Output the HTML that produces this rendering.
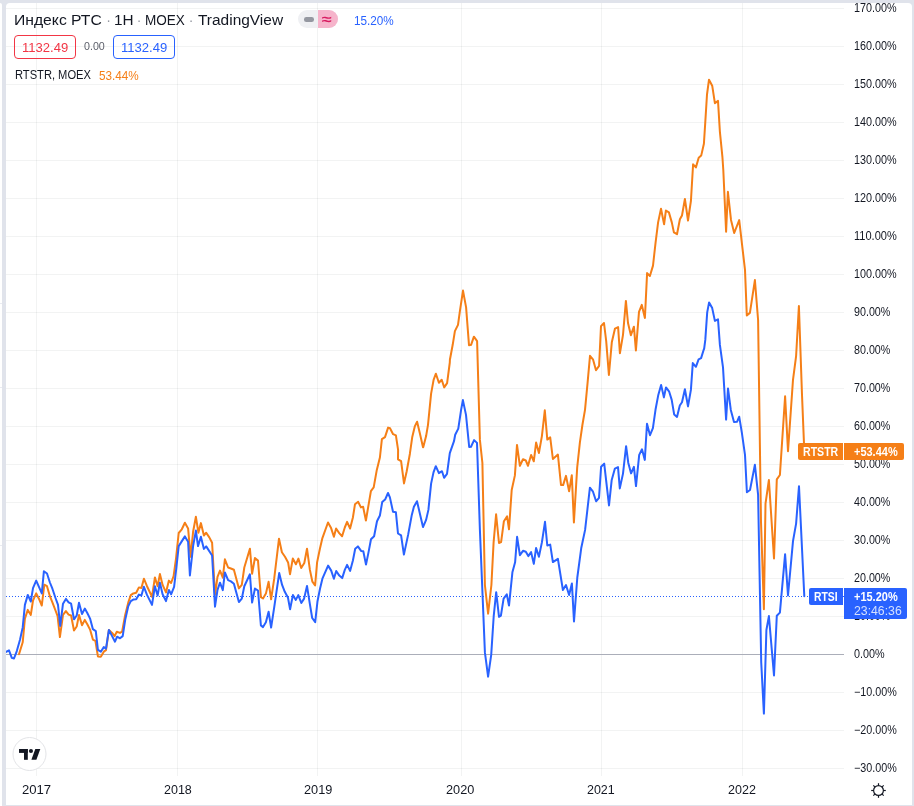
<!DOCTYPE html>
<html lang="ru"><head><meta charset="utf-8"><title>Индекс РТС</title>
<style>
html,body{margin:0;padding:0;}
body{width:914px;height:806px;overflow:hidden;background:#e0e3eb;position:relative;font-family:"Liberation Sans",sans-serif;}
.side{position:absolute;left:0;top:3px;width:2px;height:803px;background:#fff;border-top-right-radius:3px;}
.side i{position:absolute;left:0;width:2px;height:1px;background:#e9ebf1;}
.chart{position:absolute;left:6px;top:3px;width:906px;height:801.5px;background:#fff;border-radius:4px 4px 0 0;overflow:hidden;}
svg{position:absolute;left:-6px;top:-3px;}
.t{position:absolute;white-space:nowrap;transform-origin:0 50%;display:block;}
.box{position:absolute;box-sizing:border-box;border:1px solid;border-radius:4px;}
.tag{position:absolute;border-radius:2px;}
.wrap{position:absolute;left:-6px;top:-3px;width:914px;height:806px;}
</style></head><body>
<div class="side"><i style="top:300px"></i><i style="top:384px"></i><i style="top:542px"></i></div>
<div class="chart">
<svg width="914" height="806" viewBox="0 0 914 806">
<g stroke="rgba(42,46,57,0.06)" stroke-width="1" shape-rendering="crispEdges"><line x1="6" x2="844" y1="768.5" y2="768.5"/><line x1="6" x2="844" y1="730.5" y2="730.5"/><line x1="6" x2="844" y1="692.5" y2="692.5"/><line x1="6" x2="844" y1="616.5" y2="616.5"/><line x1="6" x2="844" y1="578.5" y2="578.5"/><line x1="6" x2="844" y1="540.5" y2="540.5"/><line x1="6" x2="844" y1="502.5" y2="502.5"/><line x1="6" x2="844" y1="464.5" y2="464.5"/><line x1="6" x2="844" y1="426.5" y2="426.5"/><line x1="6" x2="844" y1="388.5" y2="388.5"/><line x1="6" x2="844" y1="350.5" y2="350.5"/><line x1="6" x2="844" y1="312.5" y2="312.5"/><line x1="6" x2="844" y1="274.5" y2="274.5"/><line x1="6" x2="844" y1="236.5" y2="236.5"/><line x1="6" x2="844" y1="198.5" y2="198.5"/><line x1="6" x2="844" y1="160.5" y2="160.5"/><line x1="6" x2="844" y1="122.5" y2="122.5"/><line x1="6" x2="844" y1="84.5" y2="84.5"/><line x1="6" x2="844" y1="46.5" y2="46.5"/><line x1="6" x2="844" y1="8.5" y2="8.5"/><line x1="36.5" x2="36.5" y1="3" y2="775.5"/><line x1="177.5" x2="177.5" y1="3" y2="775.5"/><line x1="317.5" x2="317.5" y1="3" y2="775.5"/><line x1="461.5" x2="461.5" y1="3" y2="775.5"/><line x1="601.5" x2="601.5" y1="3" y2="775.5"/><line x1="742.5" x2="742.5" y1="3" y2="775.5"/></g>
<line x1="6" x2="844" y1="654.5" y2="654.5" stroke="#abaeb9" stroke-width="1" shape-rendering="crispEdges"/>
<line x1="6" x2="844" y1="596.5" y2="596.5" stroke="#2962ff" stroke-width="1" stroke-dasharray="1 2" shape-rendering="crispEdges"/>
<polyline fill="none" stroke="#f57f17" stroke-width="2" stroke-linejoin="round" stroke-linecap="round" points="19.0,654.2 22.7,642.3 24.9,618.6 27.8,609.9 30.8,614.9 33.0,600.5 36.2,593.4 38.9,598.7 41.8,605.5 44.3,584.7 47.0,586.2 49.9,596.2 52.4,602.4 55.5,610.5 57.6,616.1 59.9,637.1 63.0,614.9 65.9,611.1 68.6,614.6 71.1,615.5 74.0,630.5 76.7,626.5 79.0,614.9 82.0,625.2 84.8,619.9 87.3,624.2 90.2,629.9 92.9,639.6 95.4,640.8 97.9,656.4 100.8,656.7 103.8,651.7 106.0,650.2 108.9,629.9 112.1,632.9 114.6,636.1 116.8,631.7 120.0,632.9 122.1,631.7 125.2,614.9 128.3,602.4 130.8,595.1 133.3,593.4 136.2,592.8 138.9,587.4 141.4,588.0 143.9,578.7 147.0,586.2 152.0,596.8 154.9,577.4 157.6,586.2 159.9,574.1 162.6,584.9 166.0,592.4 168.9,580.6 171.1,583.0 173.6,576.2 176.0,558.6 178.7,533.0 181.8,529.3 184.9,522.7 188.1,528.4 190.6,556.8 193.1,531.8 195.9,516.8 198.4,532.7 200.9,523.1 203.9,535.5 206.2,532.7 209.3,537.4 212.1,542.8 215.0,594.8 217.5,576.8 220.0,570.6 222.8,577.7 224.9,559.3 228.1,567.5 230.9,568.5 233.9,569.7 238.9,588.4 241.8,584.9 244.3,567.5 249.9,548.7 252.1,573.7 254.9,558.1 258.0,560.6 260.9,597.1 263.0,598.4 265.9,593.6 268.6,581.8 271.1,599.3 274.2,578.7 279.0,538.7 281.9,552.2 285.0,556.8 288.1,562.4 290.0,574.2 292.8,558.6 295.9,564.3 298.4,558.6 301.2,568.0 304.3,563.0 307.0,548.7 309.9,569.9 312.4,581.7 315.1,585.5 317.1,562.4 319.9,548.7 322.4,538.1 328.0,522.5 331.1,528.1 333.9,536.8 336.1,528.5 339.2,533.1 342.1,536.2 344.8,527.5 347.1,521.9 350.1,528.5 352.9,517.5 355.0,504.2 358.1,501.7 360.9,507.4 363.1,506.7 365.9,520.5 370.9,491.1 373.7,487.4 376.8,469.9 379.9,457.5 381.9,439.2 385.0,437.1 388.1,427.6 390.0,428.3 393.1,434.2 395.9,435.4 398.1,449.8 398.0,459.3 401.1,461.2 404.0,483.4 406.7,471.2 409.9,453.7 412.2,437.3 414.9,426.1 417.1,421.7 419.9,433.6 423.0,447.3 423.3,446.9 426.1,436.1 428.0,424.8 431.1,393.6 433.6,379.9 435.9,373.7 438.9,382.7 441.7,379.7 444.2,387.4 447.1,383.1 449.8,362.5 449.9,359.8 452.7,344.8 454.9,331.1 458.0,324.9 459.9,311.2 463.0,290.6 466.1,307.4 469.0,345.2 471.1,344.8 473.9,336.7 477.1,341.1 479.9,439.9 482.4,463.0 484.9,585.0 488.1,613.7 491.4,585.0 493.6,542.4 496.1,514.3 499.0,543.0 501.1,542.1 503.9,521.2 507.1,516.4 509.0,529.3 511.7,490.0 514.9,475.4 517.0,444.9 519.9,465.8 523.0,459.2 525.8,460.5 528.0,465.8 531.1,454.9 533.8,461.3 536.1,442.6 538.9,453.0 541.9,436.1 544.8,410.3 547.3,439.6 550.2,437.4 552.9,459.0 557.9,454.6 561.0,485.0 563.1,485.1 566.0,475.9 569.1,491.3 571.8,475.2 573.9,522.4 577.2,467.4 579.9,442.4 582.4,425.0 585.0,409.8 587.5,383.6 590.0,355.8 593.1,359.7 596.0,370.2 599.1,365.8 601.0,326.1 604.0,323.0 606.2,341.1 608.9,374.9 611.8,342.3 615.0,328.6 618.1,327.1 619.9,353.3 623.0,334.8 625.9,300.9 628.0,323.0 630.9,335.2 633.9,326.7 635.9,350.4 639.0,311.8 641.8,304.9 644.9,318.0 647.1,273.1 649.9,276.0 653.0,265.6 655.6,242.3 658.1,222.4 661.0,208.7 664.1,224.3 665.9,210.5 668.9,212.4 671.8,222.4 673.9,232.4 677.0,234.2 679.9,219.3 682.0,215.5 684.9,198.9 688.0,220.5 690.9,201.2 693.1,164.3 695.9,167.4 698.7,157.8 701.2,155.6 703.9,143.7 705.3,121.9 707.0,94.5 709.0,79.7 712.2,85.7 714.9,103.2 718.0,100.9 719.9,131.9 722.4,156.8 723.3,170.0 726.1,231.7 727.9,191.8 731.0,219.9 734.2,233.0 739.2,220.1 745.0,269.9 746.8,315.4 749.9,312.9 754.9,280.1 758.1,320.0 761.0,522.0 763.9,609.2 765.5,503.7 768.9,480.0 774.0,558.5 776.8,479.4 779.9,475.0 785.1,396.2 788.0,451.3 793.0,379.8 796.1,356.1 798.9,306.0 802.0,394.8 804.3,451.4"/>
<polyline fill="none" stroke="#2962ff" stroke-width="2" stroke-linejoin="round" stroke-linecap="round" points="6.2,651.9 9.0,650.4 11.8,657.9 14.0,658.5 16.8,651.1 20.0,639.8 22.7,627.4 24.9,604.9 27.8,594.9 30.8,601.5 33.0,588.1 36.2,580.6 41.8,593.4 43.9,571.2 47.0,573.5 49.9,582.5 52.4,588.7 55.5,598.0 58.0,604.9 60.2,625.9 63.0,603.7 65.9,598.9 68.6,602.4 71.1,603.7 74.0,619.3 76.7,615.5 79.0,602.8 82.0,614.0 84.8,608.6 87.3,613.0 90.2,618.9 92.9,629.2 95.8,631.1 97.9,649.8 100.8,651.7 103.8,647.1 106.0,648.6 108.9,629.9 112.1,636.1 115.0,641.7 117.1,636.7 120.0,638.3 122.7,636.1 125.2,619.9 128.3,606.1 130.8,601.1 133.3,599.6 136.2,599.3 138.9,594.6 141.4,595.5 143.9,586.8 147.0,594.9 152.0,604.9 154.9,586.2 157.6,595.5 159.9,582.7 162.6,594.3 166.0,601.1 168.9,589.9 171.1,594.3 174.1,586.8 176.2,569.2 178.7,546.1 184.9,536.4 188.1,541.8 189.9,575.5 193.1,546.1 195.9,530.6 198.0,546.1 200.9,536.8 203.9,548.9 206.2,546.4 212.1,555.5 215.0,606.7 217.5,589.9 220.0,582.7 222.8,590.1 224.9,572.4 228.1,580.2 230.9,581.4 233.9,583.7 238.9,602.1 241.8,598.6 244.3,586.2 249.9,574.3 252.1,602.6 254.9,588.6 258.0,590.5 260.9,625.5 263.0,627.1 265.9,622.3 268.6,611.7 271.1,627.6 274.2,607.4 279.2,573.1 282.1,584.9 284.8,591.8 287.9,597.4 290.1,609.2 292.9,595.1 295.8,599.9 298.3,595.1 301.3,603.0 304.1,598.6 307.0,585.9 309.8,603.6 312.2,618.0 315.2,622.1 317.5,601.2 320.0,588.7 322.4,578.7 328.1,565.6 331.2,570.6 333.9,578.7 336.2,571.0 339.3,575.6 342.2,578.1 344.8,569.9 347.1,564.9 350.1,570.9 352.9,560.5 355.2,548.7 357.9,546.4 361.1,550.9 363.3,551.2 366.0,564.6 368.5,552.4 371.0,539.3 374.1,536.2 377.0,521.2 379.9,515.5 382.2,502.1 385.1,499.6 388.0,493.0 389.9,497.4 393.0,511.7 395.9,512.3 398.0,533.5 401.1,535.4 403.9,554.6 408.1,534.9 411.8,514.9 413.9,506.8 417.0,501.2 419.9,513.7 423.0,527.1 426.1,519.9 428.4,509.9 431.1,483.7 431.1,483.6 433.5,472.4 435.8,466.2 438.9,473.1 442.0,471.2 444.1,477.8 447.0,473.9 449.8,453.1 454.0,441.2 455.2,434.8 458.3,428.6 461.1,409.9 462.9,400.1 466.0,414.9 469.2,447.0 471.0,446.7 474.1,440.1 477.0,442.9 479.9,529.9 484.9,652.4 488.1,676.7 491.2,654.9 493.7,616.2 496.2,592.2 499.0,616.8 500.9,615.6 503.6,598.7 506.8,594.4 509.0,605.6 512.4,572.3 515.1,562.3 517.1,536.8 519.9,555.2 523.0,550.8 525.8,551.7 528.3,556.1 531.1,552.1 533.8,563.9 536.1,548.0 538.9,556.7 541.9,542.4 545.0,521.8 547.3,545.5 550.2,544.6 552.9,562.1 557.9,558.8 562.9,590.0 566.0,585.0 569.1,595.0 571.9,583.5 574.0,621.4 577.3,577.5 581.3,547.7 585.1,529.9 589.9,487.7 593.0,491.7 596.1,501.3 599.0,497.9 601.1,466.8 604.2,463.6 609.0,505.4 611.7,479.9 614.9,468.6 618.0,467.1 619.8,488.4 623.0,473.6 626.1,446.2 628.3,463.0 631.1,473.4 633.9,466.8 636.0,486.1 639.2,454.9 642.0,449.3 644.8,459.9 647.0,423.7 650.0,435.2 652.9,428.1 655.5,409.8 658.3,394.9 661.1,384.9 663.9,397.4 666.0,387.4 669.2,391.7 671.7,399.9 674.2,414.6 677.0,416.9 679.8,405.5 682.0,402.3 684.9,389.3 688.0,406.4 690.9,389.9 692.8,363.1 695.9,366.8 698.6,359.3 701.1,358.1 704.0,348.7 704.1,349.2 705.3,339.9 707.2,312.4 709.1,302.4 712.2,308.1 714.9,320.9 718.0,319.3 719.9,344.9 723.0,367.3 723.0,367.4 726.1,419.6 728.0,388.4 730.8,409.9 734.0,422.1 737.1,421.7 739.2,416.7 741.8,432.4 745.0,454.9 746.9,492.2 750.0,490.0 754.9,464.8 758.1,494.9 761.2,662.0 763.9,713.6 766.4,630.0 768.9,616.1 774.0,675.5 776.8,615.8 779.9,612.6 785.1,554.2 788.0,595.5 793.0,541.1 796.1,523.6 799.0,486.2 804.3,596.3"/>
<circle cx="29.5" cy="754" r="16.5" fill="#fff" stroke="#e3e4e7" stroke-width="1"/>
<g fill="#131722"><rect x="19" y="749" width="8.8" height="3.9"/><rect x="24" y="749" width="3.8" height="10.8"/><rect x="0" y="0" width="5" height="10.8" transform="translate(35.3,749) skewX(-19.85)"/><circle cx="30.95" cy="751" r="2.05"/></g>
<circle cx="878.5" cy="790.5" r="4.9" fill="none" stroke="#131722" stroke-width="1.2"/><line x1="883.70" y1="790.50" x2="885.80" y2="790.50" stroke="#131722" stroke-width="1.2"/><line x1="882.18" y1="794.18" x2="883.66" y2="795.66" stroke="#131722" stroke-width="1.2"/><line x1="878.50" y1="795.70" x2="878.50" y2="797.80" stroke="#131722" stroke-width="1.2"/><line x1="874.82" y1="794.18" x2="873.34" y2="795.66" stroke="#131722" stroke-width="1.2"/><line x1="873.30" y1="790.50" x2="871.20" y2="790.50" stroke="#131722" stroke-width="1.2"/><line x1="874.82" y1="786.82" x2="873.34" y2="785.34" stroke="#131722" stroke-width="1.2"/><line x1="878.50" y1="785.30" x2="878.50" y2="783.20" stroke="#131722" stroke-width="1.2"/><line x1="882.18" y1="786.82" x2="883.66" y2="785.34" stroke="#131722" stroke-width="1.2"/>
</svg>
<div class="wrap">
<span class="t" id="p0" style="left:854.24px;top:762.24px;font-size:12px;line-height:12px;color:#131722;font-weight:normal;transform:scaleX(0.8957);">−30.00%</span>
<span class="t" id="p10" style="left:854.24px;top:724.24px;font-size:12px;line-height:12px;color:#131722;font-weight:normal;transform:scaleX(0.8957);">−20.00%</span>
<span class="t" id="p20" style="left:854.24px;top:686.24px;font-size:12px;line-height:12px;color:#131722;font-weight:normal;transform:scaleX(0.8957);">−10.00%</span>
<span class="t" id="p30" style="left:854.24px;top:648.24px;font-size:12px;line-height:12px;color:#131722;font-weight:normal;transform:scaleX(0.9000);">0.00%</span>
<span class="t" id="p40" style="left:854.24px;top:610.24px;font-size:12px;line-height:12px;color:#131722;font-weight:normal;transform:scaleX(0.8925);">10.00%</span>
<span class="t" id="p50" style="left:854.24px;top:572.24px;font-size:12px;line-height:12px;color:#131722;font-weight:normal;transform:scaleX(0.8925);">20.00%</span>
<span class="t" id="p60" style="left:854.24px;top:534.24px;font-size:12px;line-height:12px;color:#131722;font-weight:normal;transform:scaleX(0.8925);">30.00%</span>
<span class="t" id="p70" style="left:854.24px;top:496.24px;font-size:12px;line-height:12px;color:#131722;font-weight:normal;transform:scaleX(0.8925);">40.00%</span>
<span class="t" id="p80" style="left:854.24px;top:458.24px;font-size:12px;line-height:12px;color:#131722;font-weight:normal;transform:scaleX(0.8925);">50.00%</span>
<span class="t" id="p90" style="left:854.24px;top:420.24px;font-size:12px;line-height:12px;color:#131722;font-weight:normal;transform:scaleX(0.8925);">60.00%</span>
<span class="t" id="p100" style="left:854.24px;top:382.24px;font-size:12px;line-height:12px;color:#131722;font-weight:normal;transform:scaleX(0.8925);">70.00%</span>
<span class="t" id="p110" style="left:854.24px;top:344.24px;font-size:12px;line-height:12px;color:#131722;font-weight:normal;transform:scaleX(0.8925);">80.00%</span>
<span class="t" id="p120" style="left:854.24px;top:306.24px;font-size:12px;line-height:12px;color:#131722;font-weight:normal;transform:scaleX(0.8925);">90.00%</span>
<span class="t" id="p130" style="left:854.24px;top:268.24px;font-size:12px;line-height:12px;color:#131722;font-weight:normal;transform:scaleX(0.9000);">100.00%</span>
<span class="t" id="p140" style="left:854.23px;top:230.24px;font-size:12px;line-height:12px;color:#131722;font-weight:normal;transform:scaleX(0.9196);">110.00%</span>
<span class="t" id="p150" style="left:854.24px;top:192.24px;font-size:12px;line-height:12px;color:#131722;font-weight:normal;transform:scaleX(0.9000);">120.00%</span>
<span class="t" id="p160" style="left:854.24px;top:154.24px;font-size:12px;line-height:12px;color:#131722;font-weight:normal;transform:scaleX(0.9000);">130.00%</span>
<span class="t" id="p170" style="left:854.24px;top:116.24px;font-size:12px;line-height:12px;color:#131722;font-weight:normal;transform:scaleX(0.9000);">140.00%</span>
<span class="t" id="p180" style="left:854.24px;top:78.24px;font-size:12px;line-height:12px;color:#131722;font-weight:normal;transform:scaleX(0.9000);">150.00%</span>
<span class="t" id="p190" style="left:854.24px;top:40.24px;font-size:12px;line-height:12px;color:#131722;font-weight:normal;transform:scaleX(0.9000);">160.00%</span>
<span class="t" id="p200" style="left:854.24px;top:2.24px;font-size:12px;line-height:12px;color:#131722;font-weight:normal;transform:scaleX(0.9000);">170.00%</span>
<span class="t" id="y2017" style="left:21.79px;top:783.00px;font-size:13px;line-height:13px;color:#131722;font-weight:normal;transform:scaleX(1.0074);">2017</span>
<span class="t" id="y2018" style="left:163.61px;top:783.00px;font-size:13px;line-height:13px;color:#131722;font-weight:normal;transform:scaleX(0.9607);">2018</span>
<span class="t" id="y2019" style="left:303.60px;top:783.00px;font-size:13px;line-height:13px;color:#131722;font-weight:normal;transform:scaleX(0.9786);">2019</span>
<span class="t" id="y2020" style="left:446.42px;top:783.00px;font-size:13px;line-height:13px;color:#131722;font-weight:normal;transform:scaleX(0.9786);">2020</span>
<span class="t" id="y2021" style="left:586.84px;top:783.00px;font-size:13px;line-height:13px;color:#131722;font-weight:normal;transform:scaleX(0.9593);">2021</span>
<span class="t" id="y2022" style="left:728.21px;top:783.00px;font-size:13px;line-height:13px;color:#131722;font-weight:normal;transform:scaleX(0.9643);">2022</span>
<div class="tag" style="left:798px;top:443px;width:45px;height:16.8px;background:#f57f17;border-radius:2px 0 0 2px"></div><div class="tag" style="left:844px;top:443px;width:60px;height:16.8px;background:#f57f17;border-radius:0 2px 2px 0"></div><div class="tag" style="left:809px;top:588px;width:34px;height:16.8px;background:#2962ff;border-radius:2px 0 0 2px"></div><div class="tag" style="left:844px;top:588px;width:63px;height:30.7px;background:#2962ff;border-radius:0 2px 2px 0"></div>
<span class="t" id="tg1" style="left:803.12px;top:445.84px;font-size:12px;line-height:12px;color:#fff;font-weight:bold;transform:scaleX(0.8816);">RTSTR</span>
<span class="t" id="tg2" style="left:853.66px;top:445.84px;font-size:12px;line-height:12px;color:#fff;font-weight:bold;transform:scaleX(0.9149);">+53.44%</span>
<span class="t" id="tg3" style="left:814.07px;top:590.84px;font-size:12px;line-height:12px;color:#fff;font-weight:bold;transform:scaleX(0.8654);">RTSI</span>
<span class="t" id="tg4" style="left:853.66px;top:590.84px;font-size:12px;line-height:12px;color:#fff;font-weight:bold;transform:scaleX(0.9149);">+15.20%</span>
<span class="t" id="tg5" style="left:853.58px;top:604.84px;font-size:12px;line-height:12px;color:#d4e0ff;font-weight:normal;transform:scaleX(1.0222);">23:46:36</span>
<span class="t" id="l1" style="left:14.45px;top:13.25px;font-size:14px;line-height:14px;color:#131722;font-weight:normal;transform:scaleX(1.1211);">Индекс РТС</span>
<span class="t" id="l1a" style="left:106.20px;top:13.25px;font-size:14px;line-height:14px;color:#9598a1;font-weight:normal;transform:scaleX(1.0000);">·</span>
<span class="t" id="l2" style="left:113.91px;top:13.25px;font-size:14px;line-height:14px;color:#131722;font-weight:normal;transform:scaleX(1.0938);">1Н</span>
<span class="t" id="l2a" style="left:136.80px;top:13.25px;font-size:14px;line-height:14px;color:#9598a1;font-weight:normal;transform:scaleX(1.0000);">·</span>
<span class="t" id="l3" style="left:144.62px;top:13.25px;font-size:14px;line-height:14px;color:#131722;font-weight:normal;transform:scaleX(0.9675);">MOEX</span>
<span class="t" id="l3a" style="left:188.70px;top:13.25px;font-size:14px;line-height:14px;color:#9598a1;font-weight:normal;transform:scaleX(1.0000);">·</span>
<span class="t" id="l4" style="left:197.79px;top:13.25px;font-size:14px;line-height:14px;color:#131722;font-weight:normal;transform:scaleX(1.1039);">TradingView</span>
<div style="position:absolute;left:298px;top:10px;width:40px;height:18px;border-radius:9px;overflow:hidden;background:#eff0f3"><div style="position:absolute;left:20px;top:0;width:20px;height:18px;background:#f6b4cb"></div><div style="position:absolute;left:6px;top:7px;width:10px;height:4.5px;border-radius:2.3px;background:#9598a1"></div></div>
<span class="t" id="l5a" style="left:322.31px;top:11.75px;font-size:14px;line-height:14px;color:#d81b60;font-weight:bold;transform:scaleX(1.2857);">≈</span>
<span class="t" id="l5" style="left:354.10px;top:14.05px;font-size:13px;line-height:13px;color:#2962ff;font-weight:normal;transform:scaleX(0.9023);">15.20%</span>
<div class="box" style="left:14px;top:35px;width:62px;height:24px;border-color:#f23645"></div><div class="box" style="left:113px;top:35px;width:62px;height:24px;border-color:#2962ff"></div>
<span class="t" id="b1" style="left:21.59px;top:40.70px;font-size:13px;line-height:13px;color:#f23645;font-weight:normal;transform:scaleX(1.0045);">1132.49</span>
<span class="t" id="b2" style="left:83.80px;top:41.39px;font-size:11px;line-height:11px;color:#5d606b;font-weight:normal;transform:scaleX(0.9714);">0.00</span>
<span class="t" id="b3" style="left:120.59px;top:40.70px;font-size:13px;line-height:13px;color:#2962ff;font-weight:normal;transform:scaleX(1.0045);">1132.49</span>
<span class="t" id="r1" style="left:15.04px;top:69.44px;font-size:12px;line-height:12px;color:#131722;font-weight:normal;transform:scaleX(0.9284);">RTSTR, MOEX</span>
<span class="t" id="r2" style="left:99.48px;top:68.60px;font-size:13px;line-height:13px;color:#f57f17;font-weight:normal;transform:scaleX(0.9023);">53.44%</span>
</div>
</div>
</body></html>
